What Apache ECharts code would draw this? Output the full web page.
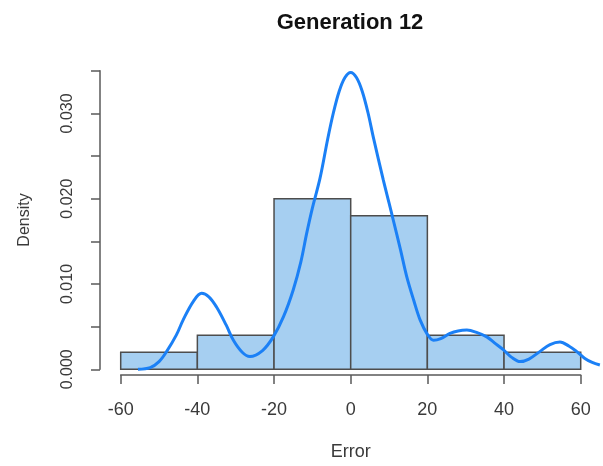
<!DOCTYPE html>
<html>
<head>
<meta charset="utf-8">
<title>Generation 12</title>
<script src="https://cdn.jsdelivr.net/npm/echarts@6/dist/echarts.min.js"></script>
<style>
  html, body { margin: 0; padding: 0; background: #fff; }
  #chart { width: 603px; height: 466px; }
</style>
</head>
<body>
<div id="chart"></div>
<script>
// Histogram bins of the error (edges) and their densities
const binEdges = [-60, -40, -20, 0, 20, 40, 60];
const binDensity = [0.002, 0.004, 0.020, 0.018, 0.004, 0.002];

// Kernel density estimate of the same errors
const kdeX = [-55.5, -52.3, -50, -48, -45.5, -43.7, -41, -38.9, -37, -35, -32.5, -30.6, -28.3, -26.3,
  -23, -20.2, -17.5, -15, -13, -11.5, -10, -8, -6, -4.5, -3, -1.5, 0, 1.5, 3, 4.5, 6, 8.5, 10, 11.1, 13, 14.6,
  16.5, 18.1, 20, 21.6, 23.5, 25.9, 28, 30.3, 33, 35.5, 37.5, 39.8, 42, 44.2, 46.5, 49.4, 52, 54.6,
  57, 58.9, 61, 63, 65];
const kdeY = [0.0000, 0.0002, 0.0009, 0.0021, 0.0040, 0.0058, 0.0080, 0.0089, 0.0085, 0.0073, 0.0052, 0.0034, 0.0020, 0.0015,
  0.0022, 0.0038, 0.0062, 0.0093, 0.0126, 0.0159, 0.0189, 0.0224, 0.0270, 0.0301, 0.0326, 0.0342, 0.0348, 0.0342, 0.0326, 0.0301, 0.0270, 0.0222, 0.0195, 0.0175, 0.0140, 0.0109,
  0.0080, 0.0058, 0.0041, 0.0034, 0.0036, 0.0042, 0.0045, 0.0046, 0.0043, 0.0038, 0.0031, 0.0023, 0.0014, 0.0009, 0.0012, 0.0021, 0.0029, 0.0032,
  0.0027, 0.0021, 0.0013, 0.0008, 0.0005];

// Tick labels
const xTicks = [-60, -40, -20, 0, 20, 40, 60];
const yLabelled = ['0.000', '0.010', '0.020', '0.030'];

const histData = binDensity.map((d, i) => [binEdges[i], binEdges[i + 1], d]);
const kdeData = kdeX.map((x, i) => [x, kdeY[i]]);

const textColor = '#3a3a3a';
const axisColor = '#5a5a5a';
const font = 'Liberation Sans, Arial, sans-serif';

// Plot region spans a little beyond the bins; the labelled x axis covers -60..60 only
const xLimit = 65.4;
const pxPerUnit = 460 / 120;
const plotLeft = 100;
const plotTop = 70.7;
const plotHeight = 298.6;

const chart = echarts.init(document.getElementById('chart'), null, { renderer: 'canvas' });

chart.setOption({
  animation: false,
  backgroundColor: '#ffffff',
  title: {
    text: 'Generation 12',
    left: 345,
    top: 7,
    textAlign: 'center',
    textStyle: { fontFamily: font, fontWeight: 'bold', fontSize: 22, color: '#111' }
  },
  grid: [
    // data region
    { left: plotLeft, width: 2 * xLimit * pxPerUnit, top: plotTop, height: plotHeight },
    // region used by the labelled x axis
    { left: plotLeft + (xLimit - 60) * pxPerUnit, width: 120 * pxPerUnit, top: plotTop, height: plotHeight }
  ],
  xAxis: [
    {
      type: 'value', gridIndex: 0, min: -xLimit, max: xLimit, show: false
    },
    {
      type: 'value',
      gridIndex: 1,
      min: -60,
      max: 60,
      interval: 20,
      offset: 13,
      name: 'Error',
      nameLocation: 'middle',
      nameGap: 68,
      nameTextStyle: { fontFamily: font, fontSize: 18, color: textColor },
      axisLine: { show: true, onZero: false, lineStyle: { color: axisColor, width: 1.5 } },
      axisTick: { show: true, length: 9, lineStyle: { color: axisColor, width: 1.5 } },
      axisLabel: {
        margin: 26,
        fontFamily: font,
        fontSize: 18,
        color: textColor,
        formatter: v => (xTicks.includes(v) ? String(v) : '')
      },
      splitLine: { show: false }
    }
  ],
  yAxis: [
    {
      type: 'value',
      gridIndex: 0,
      min: 0,
      max: 0.035,
      interval: 0.005,
      name: 'Density',
      nameLocation: 'middle',
      nameGap: 67,
      nameTextStyle: { fontFamily: font, fontSize: 16, color: textColor },
      axisLine: { show: true, onZero: false, lineStyle: { color: axisColor, width: 1.5 } },
      axisTick: { show: true, length: 9, lineStyle: { color: axisColor, width: 1.5 } },
      axisLabel: {
        rotate: 90,
        margin: 24,
        fontFamily: font,
        fontSize: 16,
        color: textColor,
        formatter: v => {
          const s = v.toFixed(3);
          return yLabelled.includes(s) ? s : '';
        }
      },
      splitLine: { show: false }
    },
    { type: 'value', gridIndex: 1, min: 0, max: 0.035, show: false }
  ],
  series: [
    {
      type: 'custom',
      name: 'Histogram',
      xAxisIndex: 0,
      yAxisIndex: 0,
      data: histData,
      encode: { x: [0, 1], y: 2 },
      renderItem: (params, api) => {
        const p0 = api.coord([api.value(0), 0]);
        const p1 = api.coord([api.value(1), api.value(2)]);
        return {
          type: 'rect',
          shape: { x: p0[0], y: p1[1], width: p1[0] - p0[0], height: p0[1] - p1[1] },
          style: { fill: '#a6cff1', stroke: '#4d4d4d', lineWidth: 1.5 }
        };
      },
      z: 1
    },
    {
      type: 'line',
      name: 'Density',
      xAxisIndex: 0,
      yAxisIndex: 0,
      data: kdeData,
      smooth: 0.35,
      showSymbol: false,
      clip: false,
      lineStyle: { color: '#1b80f6', width: 3 },
      z: 2
    }
  ]
});
</script>
</body>
</html>
